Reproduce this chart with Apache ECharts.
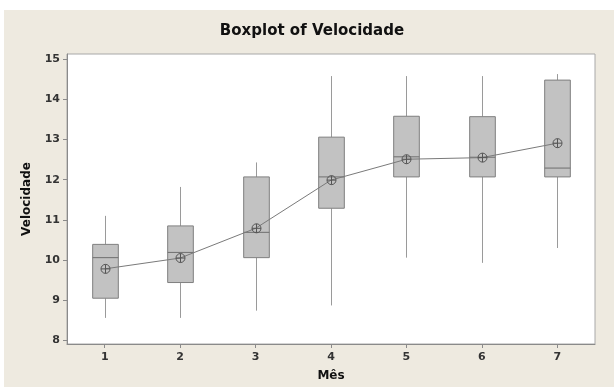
<!DOCTYPE html>
<html>
<head>
<meta charset="utf-8">
<script src="https://cdn.jsdelivr.net/npm/echarts@6/dist/echarts.min.js"></script>
<style>
  html, body { margin: 0; padding: 0; background: #ffffff; width: 614px; height: 387px; overflow: hidden; }
  #chart { position: absolute; left: 4px; top: 10px; width: 610px; height: 377px; }
</style>
</head>
<body>
<div id="chart"></div>
<script>
// Data
const categories = ['1', '2', '3', '4', '5', '6', '7'];
const whiskerLow = [8.56, 8.56, 8.74, 8.87, 10.06, 9.93, 10.30];
const q1Vals     = [9.05, 9.44, 10.06, 11.29, 12.07, 12.07, 12.07];
const medianVals = [10.06, 10.19, 10.69, 12.07, 12.57, 12.56, 12.29];
const q3Vals     = [10.39, 10.85, 12.07, 13.06, 13.58, 13.57, 14.48];
const whiskerHigh= [11.10, 11.82, 12.43, 14.58, 14.58, 14.58, 14.63];
const meanVals   = [9.78, 10.05, 10.79, 11.99, 12.51, 12.55, 12.91];
const yTicks = [8, 9, 10, 11, 12, 13, 14, 15];

const boxData = categories.map((c, i) => [i, whiskerLow[i], q1Vals[i], medianVals[i], q3Vals[i], whiskerHigh[i]]);
const meanData = categories.map((c, i) => [i, meanVals[i]]);

const chart = echarts.init(document.getElementById('chart'), null, { renderer: 'canvas' });

const FONT = 'DejaVu Sans';

function renderBox(params, api) {
  const x = api.value(0);
  const pLow = api.coord([x, api.value(1)]);
  const pQ1 = api.coord([x, api.value(2)]);
  const pMed = api.coord([x, api.value(3)]);
  const pQ3 = api.coord([x, api.value(4)]);
  const pHigh = api.coord([x, api.value(5)]);
  const bw = api.size([1, 0])[0] * 0.34;
  const cx = Math.round(pQ1[0]) + 0.5;
  const left = cx - bw / 2;
  return {
    type: 'group',
    children: [
      { type: 'line', shape: { x1: cx, y1: pQ3[1], x2: cx, y2: pHigh[1] }, style: { stroke: '#9a9a9a', lineWidth: 1 } },
      { type: 'line', shape: { x1: cx, y1: pQ1[1], x2: cx, y2: pLow[1] }, style: { stroke: '#9a9a9a', lineWidth: 1 } },
      { type: 'rect', shape: { x: left, y: pQ3[1], width: bw, height: pQ1[1] - pQ3[1] }, style: { fill: '#c2c2c2', stroke: '#7f7f7f', lineWidth: 1 } },
      { type: 'line', shape: { x1: left, y1: pMed[1], x2: left + bw, y2: pMed[1] }, style: { stroke: '#6e6e6e', lineWidth: 1 } }
    ]
  };
}

function renderMean(params, api) {
  const p = api.coord([api.value(0), api.value(1)]);
  const r = 4.5;
  const cx = Math.round(p[0]) + 0.5;
  const cy = p[1];
  return {
    type: 'group',
    children: [
      { type: 'circle', shape: { cx: cx, cy: cy, r: r }, style: { fill: 'none', stroke: '#555555', lineWidth: 1 } },
      { type: 'line', shape: { x1: cx - r, y1: cy, x2: cx + r, y2: cy }, style: { stroke: '#555555', lineWidth: 1 } },
      { type: 'line', shape: { x1: cx, y1: cy - r, x2: cx, y2: cy + r }, style: { stroke: '#555555', lineWidth: 1 } }
    ]
  };
}

chart.setOption({
  backgroundColor: '#eeeae0',
  animation: false,
  title: {
    text: 'Boxplot of Velocidade',
    left: 308,
    textAlign: 'center',
    top: 14,
    padding: 0,
    textStyle: { fontFamily: FONT, fontWeight: 'bold', fontSize: 15, color: '#111111' }
  },
  grid: {
    left: 63, right: 19, top: 44, bottom: 43,
    show: true, backgroundColor: '#ffffff', borderColor: '#a8a8a8', borderWidth: 1
  },
  xAxis: {
    type: 'category',
    data: categories,
    boundaryGap: true,
    name: 'Mês',
    nameLocation: 'middle',
    nameGap: 26,
    nameTextStyle: { fontFamily: FONT, fontWeight: 'bold', fontSize: 12, color: '#111111' },
    axisLine: { show: true, lineStyle: { color: '#8a8a8a', width: 1 } },
    axisTick: { show: true, alignWithLabel: true, length: 4, lineStyle: { color: '#8a8a8a' } },
    axisLabel: { fontFamily: FONT, fontWeight: 'bold', fontSize: 11, color: '#333333', margin: 8 },
    splitLine: { show: false }
  },
  yAxis: {
    type: 'value',
    min: 7.91,
    max: 15.13,
    name: 'Velocidade',
    nameLocation: 'middle',
    nameGap: 34,
    nameTextStyle: { fontFamily: FONT, fontWeight: 'bold', fontSize: 12, color: '#111111' },
    axisLine: { show: true, lineStyle: { color: '#8a8a8a', width: 1 } },
    axisTick: { show: true, length: 4, lineStyle: { color: '#8a8a8a' }, customValues: yTicks },
    axisLabel: { fontFamily: FONT, fontWeight: 'bold', fontSize: 11, color: '#333333', margin: 7, customValues: yTicks },
    splitLine: { show: false }
  },
  series: [
    {
      type: 'custom',
      renderItem: renderBox,
      data: boxData,
      encode: { x: 0, y: [1, 2, 3, 4, 5] },
      z: 2
    },
    {
      type: 'line',
      data: meanData,
      symbol: 'none',
      lineStyle: { color: '#7a7a7a', width: 1 },
      z: 3
    },
    {
      type: 'custom',
      renderItem: renderMean,
      data: meanData,
      encode: { x: 0, y: 1 },
      z: 4
    }
  ]
});
</script>
</body>
</html>
